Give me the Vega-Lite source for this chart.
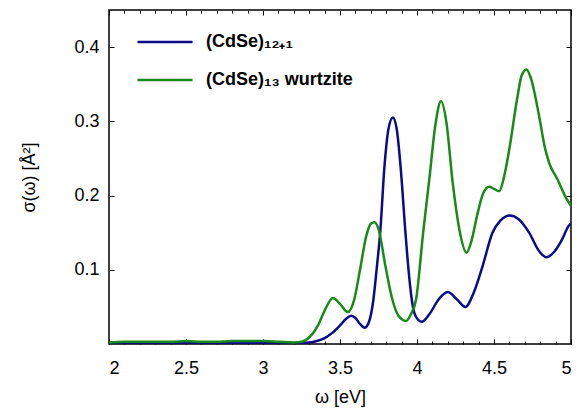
{
  "$schema": "https://vega.github.io/schema/vega-lite/v6.json",
  "width": 462,
  "height": 334,
  "autosize": {"type": "none"},
  "padding": {"left": 109, "top": 10, "right": 7, "bottom": 65},
  "background": "white",
  "config": {
    "view": {"stroke": "#000", "strokeWidth": 1.5},
    "font": "Liberation Sans",
    "axis": {"grid": false, "domain": false, "tickColor": "#000", "tickWidth": 1, "labelColor": "#000", "titleColor": "#000", "labelFont": "Liberation Sans", "titleFont": "Liberation Sans", "titleFontWeight": "normal"}
  },
  "data": {"values": [
    {"s": "(CdSe)₁₂₊₁", "x": 2.0, "y": 0.001},
    {"s": "(CdSe)₁₂₊₁", "x": 2.2, "y": 0.001},
    {"s": "(CdSe)₁₂₊₁", "x": 2.4, "y": 0.001},
    {"s": "(CdSe)₁₂₊₁", "x": 2.6, "y": 0.001},
    {"s": "(CdSe)₁₂₊₁", "x": 2.8, "y": 0.001},
    {"s": "(CdSe)₁₂₊₁", "x": 3.0, "y": 0.001},
    {"s": "(CdSe)₁₂₊₁", "x": 3.2, "y": 0.001},
    {"s": "(CdSe)₁₂₊₁", "x": 3.3, "y": 0.002},
    {"s": "(CdSe)₁₂₊₁", "x": 3.35, "y": 0.004},
    {"s": "(CdSe)₁₂₊₁", "x": 3.4, "y": 0.008},
    {"s": "(CdSe)₁₂₊₁", "x": 3.45, "y": 0.015},
    {"s": "(CdSe)₁₂₊₁", "x": 3.5, "y": 0.025},
    {"s": "(CdSe)₁₂₊₁", "x": 3.54, "y": 0.034},
    {"s": "(CdSe)₁₂₊₁", "x": 3.573, "y": 0.038},
    {"s": "(CdSe)₁₂₊₁", "x": 3.6, "y": 0.035},
    {"s": "(CdSe)₁₂₊₁", "x": 3.63, "y": 0.027},
    {"s": "(CdSe)₁₂₊₁", "x": 3.661, "y": 0.022},
    {"s": "(CdSe)₁₂₊₁", "x": 3.69, "y": 0.031},
    {"s": "(CdSe)₁₂₊₁", "x": 3.717, "y": 0.06},
    {"s": "(CdSe)₁₂₊₁", "x": 3.74, "y": 0.105},
    {"s": "(CdSe)₁₂₊₁", "x": 3.761, "y": 0.15},
    {"s": "(CdSe)₁₂₊₁", "x": 3.789, "y": 0.24},
    {"s": "(CdSe)₁₂₊₁", "x": 3.815, "y": 0.29},
    {"s": "(CdSe)₁₂₊₁", "x": 3.843, "y": 0.305},
    {"s": "(CdSe)₁₂₊₁", "x": 3.868, "y": 0.29},
    {"s": "(CdSe)₁₂₊₁", "x": 3.893, "y": 0.24},
    {"s": "(CdSe)₁₂₊₁", "x": 3.925, "y": 0.15},
    {"s": "(CdSe)₁₂₊₁", "x": 3.945, "y": 0.1},
    {"s": "(CdSe)₁₂₊₁", "x": 3.966, "y": 0.06},
    {"s": "(CdSe)₁₂₊₁", "x": 3.99, "y": 0.038},
    {"s": "(CdSe)₁₂₊₁", "x": 4.03, "y": 0.03},
    {"s": "(CdSe)₁₂₊₁", "x": 4.08, "y": 0.04},
    {"s": "(CdSe)₁₂₊₁", "x": 4.14, "y": 0.06},
    {"s": "(CdSe)₁₂₊₁", "x": 4.199, "y": 0.07},
    {"s": "(CdSe)₁₂₊₁", "x": 4.26, "y": 0.06},
    {"s": "(CdSe)₁₂₊₁", "x": 4.314, "y": 0.05},
    {"s": "(CdSe)₁₂₊₁", "x": 4.37, "y": 0.07},
    {"s": "(CdSe)₁₂₊₁", "x": 4.426, "y": 0.105},
    {"s": "(CdSe)₁₂₊₁", "x": 4.49, "y": 0.15},
    {"s": "(CdSe)₁₂₊₁", "x": 4.54, "y": 0.166},
    {"s": "(CdSe)₁₂₊₁", "x": 4.603, "y": 0.173},
    {"s": "(CdSe)₁₂₊₁", "x": 4.66, "y": 0.168},
    {"s": "(CdSe)₁₂₊₁", "x": 4.728, "y": 0.15},
    {"s": "(CdSe)₁₂₊₁", "x": 4.79, "y": 0.126},
    {"s": "(CdSe)₁₂₊₁", "x": 4.84, "y": 0.117},
    {"s": "(CdSe)₁₂₊₁", "x": 4.89, "y": 0.124},
    {"s": "(CdSe)₁₂₊₁", "x": 4.94, "y": 0.14},
    {"s": "(CdSe)₁₂₊₁", "x": 4.988, "y": 0.16},
    {"s": "(CdSe)₁₂₊₁", "x": 5.0, "y": 0.162},
    {"s": "(CdSe)₁₃ wurtzite", "x": 2.0, "y": 0.002},
    {"s": "(CdSe)₁₃ wurtzite", "x": 2.1, "y": 0.003},
    {"s": "(CdSe)₁₃ wurtzite", "x": 2.2, "y": 0.003},
    {"s": "(CdSe)₁₃ wurtzite", "x": 2.3, "y": 0.003},
    {"s": "(CdSe)₁₃ wurtzite", "x": 2.4, "y": 0.003},
    {"s": "(CdSe)₁₃ wurtzite", "x": 2.5, "y": 0.004},
    {"s": "(CdSe)₁₃ wurtzite", "x": 2.6, "y": 0.003},
    {"s": "(CdSe)₁₃ wurtzite", "x": 2.7, "y": 0.003},
    {"s": "(CdSe)₁₃ wurtzite", "x": 2.8, "y": 0.004},
    {"s": "(CdSe)₁₃ wurtzite", "x": 2.9, "y": 0.004},
    {"s": "(CdSe)₁₃ wurtzite", "x": 3.0, "y": 0.004},
    {"s": "(CdSe)₁₃ wurtzite", "x": 3.1, "y": 0.003},
    {"s": "(CdSe)₁₃ wurtzite", "x": 3.2, "y": 0.002},
    {"s": "(CdSe)₁₃ wurtzite", "x": 3.25, "y": 0.003},
    {"s": "(CdSe)₁₃ wurtzite", "x": 3.29, "y": 0.007},
    {"s": "(CdSe)₁₃ wurtzite", "x": 3.357, "y": 0.025},
    {"s": "(CdSe)₁₃ wurtzite", "x": 3.4, "y": 0.045},
    {"s": "(CdSe)₁₃ wurtzite", "x": 3.454, "y": 0.062},
    {"s": "(CdSe)₁₃ wurtzite", "x": 3.5, "y": 0.054},
    {"s": "(CdSe)₁₃ wurtzite", "x": 3.551, "y": 0.043},
    {"s": "(CdSe)₁₃ wurtzite", "x": 3.59, "y": 0.058},
    {"s": "(CdSe)₁₃ wurtzite", "x": 3.63, "y": 0.1},
    {"s": "(CdSe)₁₃ wurtzite", "x": 3.67, "y": 0.145},
    {"s": "(CdSe)₁₃ wurtzite", "x": 3.7, "y": 0.162},
    {"s": "(CdSe)₁₃ wurtzite", "x": 3.724, "y": 0.164},
    {"s": "(CdSe)₁₃ wurtzite", "x": 3.75, "y": 0.155},
    {"s": "(CdSe)₁₃ wurtzite", "x": 3.795, "y": 0.105},
    {"s": "(CdSe)₁₃ wurtzite", "x": 3.84, "y": 0.06},
    {"s": "(CdSe)₁₃ wurtzite", "x": 3.88, "y": 0.038},
    {"s": "(CdSe)₁₃ wurtzite", "x": 3.929, "y": 0.031},
    {"s": "(CdSe)₁₃ wurtzite", "x": 3.96, "y": 0.04},
    {"s": "(CdSe)₁₃ wurtzite", "x": 3.994, "y": 0.06},
    {"s": "(CdSe)₁₃ wurtzite", "x": 4.04, "y": 0.15},
    {"s": "(CdSe)₁₃ wurtzite", "x": 4.08, "y": 0.222},
    {"s": "(CdSe)₁₃ wurtzite", "x": 4.12, "y": 0.296},
    {"s": "(CdSe)₁₃ wurtzite", "x": 4.156, "y": 0.327},
    {"s": "(CdSe)₁₃ wurtzite", "x": 4.19, "y": 0.3},
    {"s": "(CdSe)₁₃ wurtzite", "x": 4.232, "y": 0.217},
    {"s": "(CdSe)₁₃ wurtzite", "x": 4.279, "y": 0.15},
    {"s": "(CdSe)₁₃ wurtzite", "x": 4.322, "y": 0.123},
    {"s": "(CdSe)₁₃ wurtzite", "x": 4.355, "y": 0.14},
    {"s": "(CdSe)₁₃ wurtzite", "x": 4.389, "y": 0.172},
    {"s": "(CdSe)₁₃ wurtzite", "x": 4.43, "y": 0.203},
    {"s": "(CdSe)₁₃ wurtzite", "x": 4.469, "y": 0.212},
    {"s": "(CdSe)₁₃ wurtzite", "x": 4.5, "y": 0.209},
    {"s": "(CdSe)₁₃ wurtzite", "x": 4.534, "y": 0.206},
    {"s": "(CdSe)₁₃ wurtzite", "x": 4.565, "y": 0.225},
    {"s": "(CdSe)₁₃ wurtzite", "x": 4.599, "y": 0.262},
    {"s": "(CdSe)₁₃ wurtzite", "x": 4.65, "y": 0.33},
    {"s": "(CdSe)₁₃ wurtzite", "x": 4.68, "y": 0.362},
    {"s": "(CdSe)₁₃ wurtzite", "x": 4.711, "y": 0.37},
    {"s": "(CdSe)₁₃ wurtzite", "x": 4.74, "y": 0.358},
    {"s": "(CdSe)₁₃ wurtzite", "x": 4.793, "y": 0.307},
    {"s": "(CdSe)₁₃ wurtzite", "x": 4.83, "y": 0.265},
    {"s": "(CdSe)₁₃ wurtzite", "x": 4.858, "y": 0.244},
    {"s": "(CdSe)₁₃ wurtzite", "x": 4.912, "y": 0.222},
    {"s": "(CdSe)₁₃ wurtzite", "x": 4.96, "y": 0.2},
    {"s": "(CdSe)₁₃ wurtzite", "x": 5.0, "y": 0.186}
  ]},
  "resolve": {"axis": {"x": "independent", "y": "independent"}},
  "layer": [
    {
      "mark": {"type": "line", "interpolate": "monotone", "strokeWidth": 2.5, "clip": true},
      "encoding": {
        "x": {"field": "x", "type": "quantitative",
              "scale": {"domain": [2, 5], "nice": false, "zero": false},
              "axis": {"orient": "bottom", "values": [2, 2.5, 3, 3.5, 4, 4.5, 5], "format": "~g", "tickSize": -5, "labelPadding": 20, "labelFontSize": 18, "title": "ω [eV]", "titleFontSize": 18, "titlePadding": 11}},
        "y": {"field": "y", "type": "quantitative",
              "scale": {"domain": [0, 0.45], "nice": false},
              "axis": {"orient": "left", "values": [0.1, 0.2, 0.3, 0.4], "format": ".1f", "tickSize": -5, "labelPadding": 15, "labelFontSize": 18, "title": "σ(ω) [Å²]", "titleFontSize": 18, "titlePadding": 35}},
        "color": {"field": "s", "type": "nominal",
                  "scale": {"domain": ["(CdSe)₁₂₊₁", "(CdSe)₁₃ wurtzite"], "range": ["#0a0a8a", "#178a17"]},
                  "legend": {"title": null, "orient": "none", "legendX": 27, "legendY": 3, "symbolType": "stroke", "symbolSize": 3025, "symbolStrokeWidth": 2.5, "labelFontSize": 18, "labelFontWeight": "bold", "labelColor": "#000", "labelOffset": 12, "rowPadding": -4, "padding": 0}}
      }
    },
    {
      "mark": {"type": "line", "opacity": 0},
      "encoding": {
        "x": {"field": "x", "type": "quantitative", "axis": {"orient": "top", "values": [2, 2.5, 3, 3.5, 4, 4.5, 5], "labels": false, "tickSize": -5, "title": null}},
        "y": {"field": "y", "type": "quantitative", "axis": {"orient": "right", "values": [0.1, 0.2, 0.3, 0.4], "labels": false, "tickSize": -5, "title": null}}
      }
    },
    {
      "mark": {"type": "line", "opacity": 0},
      "encoding": {
        "x": {"field": "x", "type": "quantitative", "axis": {"orient": "bottom", "values": [2.1, 2.2, 2.3, 2.4, 2.6, 2.7, 2.8, 2.9, 3.1, 3.2, 3.3, 3.4, 3.6, 3.7, 3.8, 3.9, 4.1, 4.2, 4.3, 4.4, 4.6, 4.7, 4.8, 4.9], "labels": false, "tickSize": -3, "title": null}},
        "y": {"field": "y", "type": "quantitative", "axis": null}
      }
    },
    {
      "mark": {"type": "line", "opacity": 0},
      "encoding": {
        "x": {"field": "x", "type": "quantitative", "axis": {"orient": "top", "values": [2.1, 2.2, 2.3, 2.4, 2.6, 2.7, 2.8, 2.9, 3.1, 3.2, 3.3, 3.4, 3.6, 3.7, 3.8, 3.9, 4.1, 4.2, 4.3, 4.4, 4.6, 4.7, 4.8, 4.9], "labels": false, "tickSize": -3, "title": null}},
        "y": {"field": "y", "type": "quantitative", "axis": null}
      }
    }
  ]
}
